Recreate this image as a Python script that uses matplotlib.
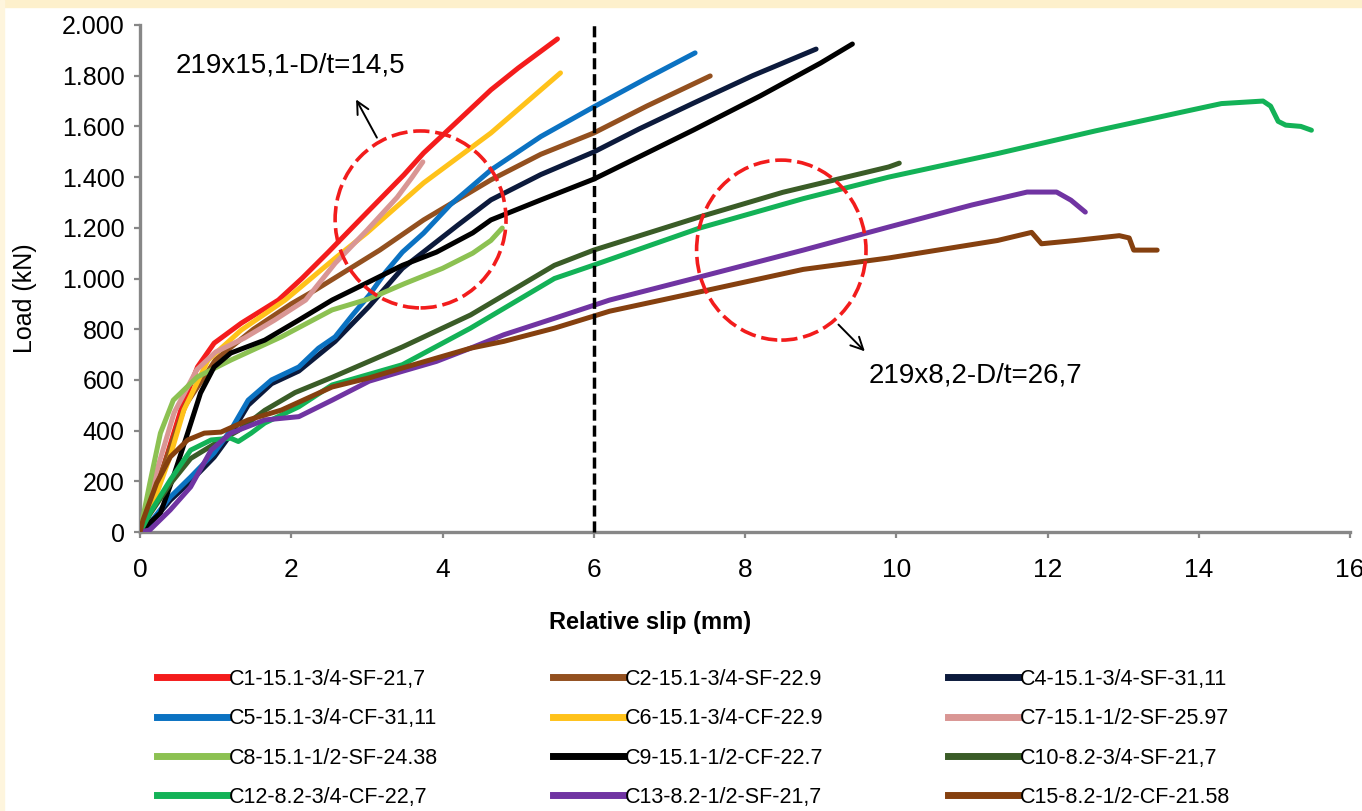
import matplotlib
matplotlib.use('Agg')
import matplotlib.pyplot as plt
from matplotlib import font_manager
from matplotlib.patches import Ellipse, Rectangle
from matplotlib.lines import Line2D
from matplotlib.ticker import FuncFormatter


def pick_font(names):
    have = {f.name for f in font_manager.fontManager.ttflist}
    for n in names:
        if n in have:
            return n
    return 'DejaVu Sans'


NARROW = pick_font(['Liberation Sans Narrow', 'DejaVu Sans Condensed', 'Liberation Sans'])
WIDE = pick_font(['Liberation Sans', 'DejaVu Sans'])

# load-slip curves (x = relative slip mm, y = load kN)
c1_x = [0, 0.1, 0.31, 0.54, 0.76, 0.98, 1.34, 1.83, 2.14, 2.49, 3.0, 3.49, 3.75, 4.09, 4.64, 5.0, 5.52]
c1_y = [0, 110, 258, 481, 651, 745, 824, 915, 1000, 1104, 1260, 1409, 1495, 1590, 1744, 1830, 1945]

c2_x = [0, 0.3, 0.6, 1.0, 1.5, 2.0, 2.32, 3.17, 3.75, 4.64, 5.3, 6.0, 6.7, 7.54]
c2_y = [0, 250, 500, 680, 800, 900, 955, 1112, 1231, 1389, 1490, 1574, 1680, 1799]

c4_x = [0, 0.13, 0.4, 0.67, 0.98, 1.2, 1.43, 1.74, 2.1, 2.58, 3.03, 3.47, 3.75, 4.2, 4.64,
        5.3, 6.0, 6.6, 7.32, 8.1, 8.94]
c4_y = [0, 30, 125, 200, 295, 385, 500, 585, 635, 752, 890, 1040, 1105, 1210, 1310,
        1410, 1499, 1590, 1692, 1800, 1905]

c5_x = [0, 0.13, 0.4, 0.67, 0.98, 1.2, 1.43, 1.74, 2.1, 2.36, 2.58, 2.81, 3.03, 3.25, 3.47,
        3.75, 4.1, 4.64, 5.3, 6.0, 6.7, 7.34]
c5_y = [0, 35, 138, 217, 312, 402, 520, 600, 651, 725, 770, 856, 934, 1026, 1104,
        1179, 1290, 1428, 1560, 1677, 1790, 1890]

c6_x = [0, 0.22, 0.4, 0.58, 0.9, 1.34, 1.92, 2.58, 3.0, 3.75, 4.64, 5.56]
c6_y = [0, 150, 300, 481, 678, 797, 915, 1080, 1180, 1377, 1574, 1811]

c7_x = [0, 0.2, 0.45, 0.75, 1.0, 1.38, 1.78, 2.19, 2.58, 3.0, 3.4, 3.6, 3.74]
c7_y = [0, 220, 470, 640, 710, 765, 836, 915, 1060, 1190, 1320, 1400, 1460]

c8_x = [0, 0.13, 0.27, 0.44, 0.76, 1.2, 1.87, 2.54, 3.03, 3.5, 4.0, 4.4, 4.64, 4.79]
c8_y = [0, 193, 390, 520, 612, 678, 770, 876, 920, 980, 1040, 1100, 1150, 1199]

c9_x = [0, 0.27, 0.44, 0.63, 0.8, 0.98, 1.2, 1.65, 2.1, 2.54, 3.03, 3.47, 3.92, 4.4, 4.64,
        5.3, 6.0, 6.6, 7.32, 8.2, 9.0, 9.42]
c9_y = [0, 75, 217, 390, 548, 651, 706, 757, 836, 915, 987, 1052, 1104, 1180, 1231,
        1310, 1392, 1480, 1586, 1720, 1850, 1925]

c10_x = [0, 0.13, 0.4, 0.67, 1.0, 1.3, 1.65, 2.05, 2.54, 3.47, 4.37, 5.48, 6.0, 7.4, 8.5, 9.9, 10.04]
c10_y = [0, 70, 190, 290, 350, 400, 480, 550, 610, 730, 856, 1052, 1112, 1243, 1340, 1440, 1455]

c12_x = [0, 0.13, 0.4, 0.67, 0.94, 1.2, 1.3, 1.47, 1.65, 2.1, 2.54, 3.47, 4.37, 5.48, 6.0, 7.4,
         8.77, 9.9, 11.34, 12.63, 13.91, 14.3, 14.85, 14.95, 15.05, 15.15, 15.35, 15.49]
c12_y = [0, 75, 205, 323, 363, 370, 357, 390, 430, 494, 580, 660, 804, 1000, 1053, 1199,
         1315, 1400, 1493, 1582, 1665, 1690, 1700, 1680, 1620, 1605, 1600, 1585]

c13_x = [0, 0.13, 0.4, 0.67, 0.94, 1.2, 1.65, 2.1, 2.54, 3.03, 3.47, 3.92, 4.37, 4.81, 5.48,
         6.21, 7.4, 8.77, 9.9, 11.0, 11.73, 12.12, 12.31, 12.5]
c13_y = [0, 8, 87, 178, 323, 390, 442, 455, 520, 595, 634, 673, 725, 778, 843,
         915, 1006, 1112, 1203, 1290, 1341, 1341, 1309, 1262]

c15_x = [0, 0.04, 0.22, 0.4, 0.63, 0.85, 1.07, 1.43, 1.87, 2.54, 3.03, 3.47, 3.92, 4.37, 4.81,
         5.48, 6.21, 7.49, 8.77, 9.9, 11.34, 11.79, 11.92, 12.37, 12.95, 13.08, 13.14, 13.45]
c15_y = [0, 47, 193, 296, 363, 390, 394, 442, 481, 572, 608, 647, 686, 725, 752,
         804, 871, 953, 1036, 1081, 1150, 1182, 1137, 1150, 1169, 1160, 1112, 1112]

labels = ['C1-15.1-3/4-SF-21,7', 'C2-15.1-3/4-SF-22.9', 'C4-15.1-3/4-SF-31,11',
          'C5-15.1-3/4-CF-31,11', 'C6-15.1-3/4-CF-22.9', 'C7-15.1-1/2-SF-25.97',
          'C8-15.1-1/2-SF-24.38', 'C9-15.1-1/2-CF-22.7', 'C10-8.2-3/4-SF-21,7',
          'C12-8.2-3/4-CF-22,7', 'C13-8.2-1/2-SF-21,7', 'C15-8.2-1/2-CF-21.58']
colors = ['#F41C1C', '#93501F', '#0C1A3C', '#0B72C2', '#FFC21A', '#D99694',
          '#8CC152', '#000000', '#3A5C27', '#13B257', '#7034A2', '#85400F']
series = [(c1_x, c1_y), (c2_x, c2_y), (c4_x, c4_y), (c5_x, c5_y), (c6_x, c6_y), (c7_x, c7_y),
          (c8_x, c8_y), (c9_x, c9_y), (c10_x, c10_y), (c12_x, c12_y), (c13_x, c13_y), (c15_x, c15_y)]

yticks = list(range(0, 2001, 200))
xticks = list(range(0, 17, 2))
limit_slip = 6

fig = plt.figure(figsize=(13.62, 8.11), dpi=100)
# cream frame along the top and left edge
fig.patches.append(Rectangle((0, 1 - 7 / 811), 1, 7 / 811, transform=fig.transFigure,
                             color='#FDF0CC', zorder=0))
fig.patches.append(Rectangle((0, 0), 4 / 1362, 1, transform=fig.transFigure,
                             color='#FEF5DD', zorder=0))

ax = fig.add_axes([140 / 1362, 1 - 532 / 811, 1210 / 1362, 507 / 811])

for (xs, ys), c in zip(series, colors):
    ax.plot(xs, ys, color=c, lw=3.6, solid_capstyle='round', solid_joinstyle='round', zorder=3)

ax.vlines(limit_slip, 0, 2012, colors='black', linestyles=(0, (3.2, 1.4)), lw=2.5,
          clip_on=False, zorder=4)

ax.add_patch(Ellipse((3.71, 1233), 2.26, 698, fill=False, ec='#F21C1C', lw=2.6,
                     ls=(0, (4.5, 1.6)), zorder=5))
ax.add_patch(Ellipse((8.48, 1112), 2.24, 710, fill=False, ec='#F21C1C', lw=2.6,
                     ls=(0, (4.5, 1.6)), zorder=5))

ax.annotate('', xy=(2.84, 1716), xytext=(3.15, 1546),
            arrowprops=dict(arrowstyle='->', color='black', lw=1.4, mutation_scale=22))
ax.annotate('', xy=(9.61, 705), xytext=(9.21, 826),
            arrowprops=dict(arrowstyle='->', color='black', lw=1.4, mutation_scale=22))
ax.text(0.47, 1842, '219x15,1-D/t=14,5', family=NARROW, fontsize=20, ha='left', va='center')
ax.text(9.64, 619, '219x8,2-D/t=26,7', family=NARROW, fontsize=20, ha='left', va='center')

ax.set_xlim(0, 16)
ax.set_ylim(0, 2000)
ax.set_xticks(xticks)
ax.set_yticks(yticks)
ax.yaxis.set_major_formatter(FuncFormatter(lambda v, p: f'{v:,.0f}'.replace(',', '.')))

for s in ['top', 'right']:
    ax.spines[s].set_visible(False)
for s in ['left', 'bottom']:
    ax.spines[s].set_color('#878787')
    ax.spines[s].set_linewidth(2.4)
ax.tick_params(axis='both', direction='out', length=4, width=1.6, color='#878787')
ax.tick_params(axis='x', pad=15, labelsize=19, labelfontfamily=NARROW)
ax.tick_params(axis='y', pad=7, labelsize=18, labelfontfamily=WIDE)

fig.text(650 / 1362, 1 - 622 / 811, 'Relative slip (mm)', family=NARROW, fontsize=17,
         fontweight='bold', ha='center', va='center')
fig.text(25 / 1362, 1 - 298 / 811, 'Load (kN)', family=WIDE, fontsize=18,
         rotation=90, ha='center', va='center')

# legend: three columns placed like the original (row-major order)
col_x = [157, 553, 948]
for ci in range(3):
    idx = [ci, ci + 3, ci + 6, ci + 9]
    handles = [Line2D([], [], color=colors[i], lw=5) for i in idx]
    fig.legend(handles, [labels[i] for i in idx], loc='upper left',
               bbox_to_anchor=(col_x[ci] / 1362, 1 - 669 / 811), frameon=False,
               prop={'family': NARROW, 'size': 15.5}, handlelength=3.3, handletextpad=0.05,
               labelspacing=0.85, borderpad=0, borderaxespad=0)

fig.savefig('out.png', dpi=100)
